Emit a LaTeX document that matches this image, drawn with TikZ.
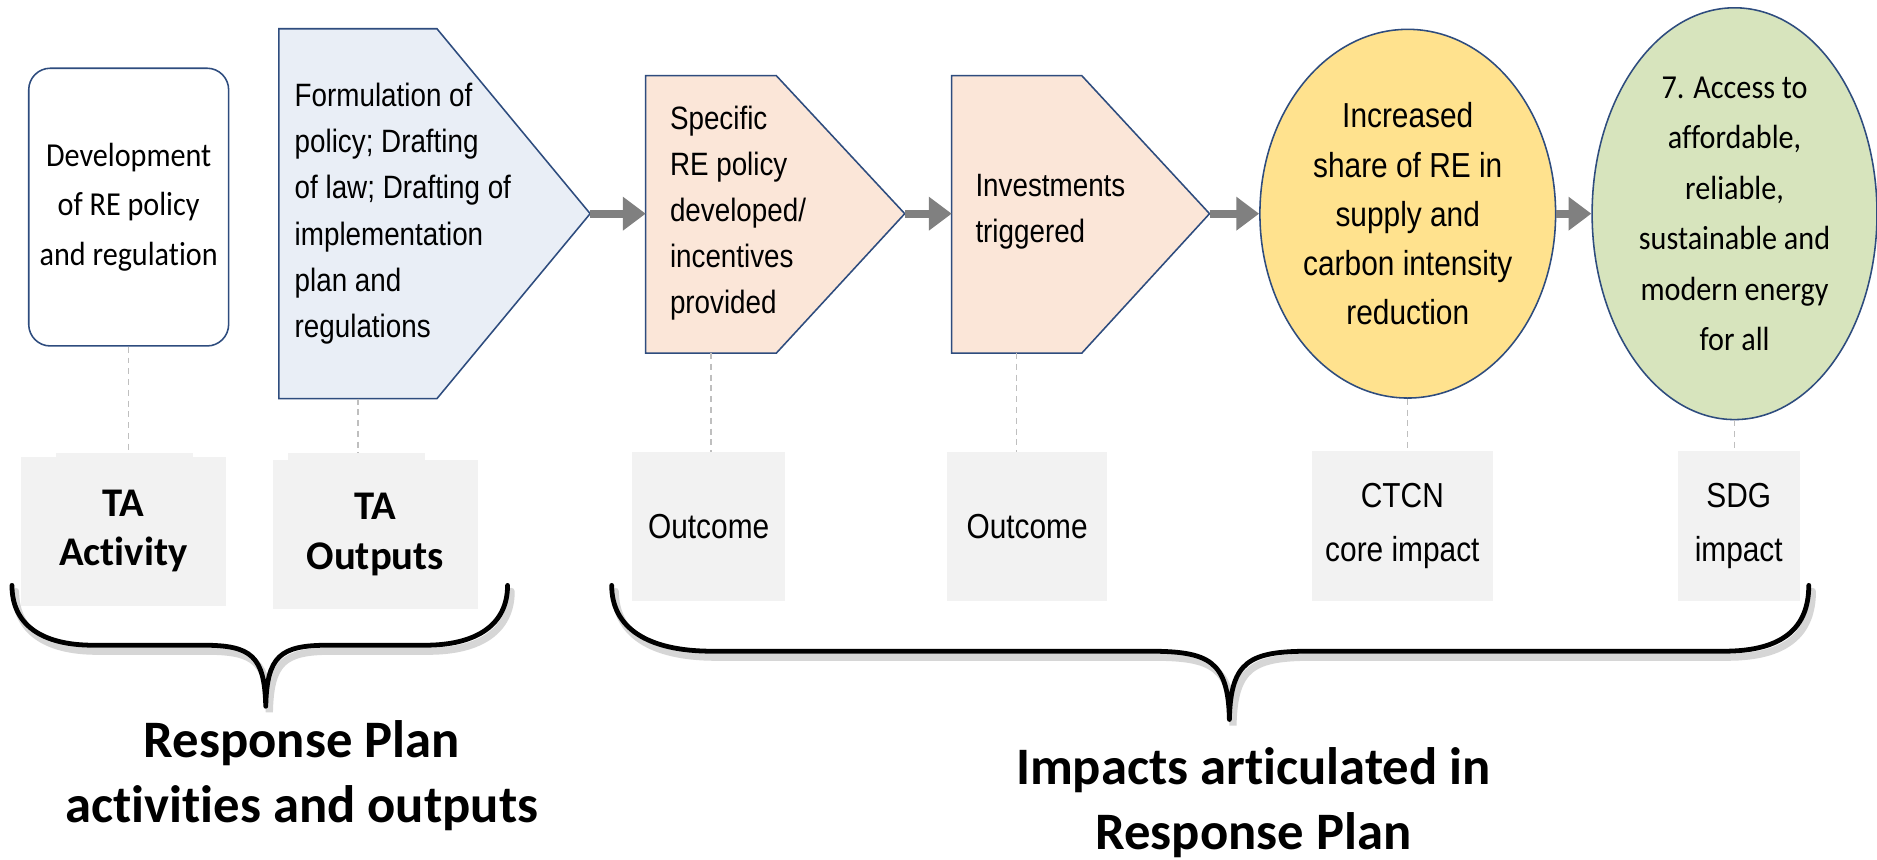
\documentclass[tikz,border=0pt]{standalone}
\usepackage{fontspec}
\setmainfont[Ligatures=NoCommon]{Carlito}
\newfontfamily\narrowfont[FakeStretch=0.86]{Liberation Sans}
\newfontfamily\calnarrow[FakeStretch=0.9,Ligatures=NoCommon]{Carlito}
\usetikzlibrary{arrows.meta,shapes.geometric}
\definecolor{navy}{HTML}{2E4C7E}
\definecolor{bluefill}{HTML}{E9EEF6}
\definecolor{peach}{HTML}{FBE6D8}
\definecolor{yel}{HTML}{FFE28E}
\definecolor{grn}{HTML}{D7E4BD}
\definecolor{boxgray}{HTML}{F2F2F2}
\definecolor{arrgray}{HTML}{808080}
\definecolor{dashgray}{HTML}{BFBFBF}
\begin{document}
\begin{tikzpicture}[x=1pt,y=-1pt,
  shapeline/.style={draw=navy,line width=1.3pt},
  bluepent/.style={shapeline,fill=bluefill},
  peachpent/.style={shapeline,fill=peach},
  narrowtxt/.style={font=\narrowfont\fontsize{27}{38.5}\selectfont,align=left,inner sep=0pt,anchor=west},
  ovaltxt/.style={ellipse,shapeline,inner sep=0pt,align=center},
  labelbox/.style={fill=boxgray,inner sep=0pt,align=center},
  boldlab/.style={labelbox,font=\fontsize{34}{41.5}\selectfont\bfseries},
  narrowlab/.style={labelbox,font=\narrowfont\fontsize{29}{45}\selectfont},
  flow/.style={draw=arrgray,line width=6.5pt,-{Triangle[length=19pt,width=27pt]}},
  guide/.style={draw=dashgray,line width=1pt,dash pattern=on 5pt off 4pt},
  bracepath/.style={draw=black,line width=4pt,line cap=round,line join=round},
  braceshadow/.style={draw=black!35,line width=6pt,opacity=0.45,line cap=round},
  bottomtxt/.style={font=\fontsize{44}{54.5}\selectfont\bfseries,align=center,inner sep=0pt}
]
\useasboundingbox (0,0) rectangle (1568,718);
\fill[white] (0,0) rectangle (1568,718);

% --- activity box
\node[shapeline,fill=white,rounded corners=18pt,minimum width=167pt,minimum height=232pt,
      align=center,font=\calnarrow\fontsize{28}{41.5}\selectfont] (dev) at (107.5,173)
      {Development\\of RE policy\\and regulation};

% --- output pentagon
\draw[bluepent] (233,24) -- (365,24) -- (493,178.5) -- (365,333) -- (233,333) -- cycle;
\coordinate (btip) at (493,178.5);
\coordinate (bbot) at (299,333);
\node[narrowtxt] (btxt) at (246,178.5)
  {Formulation of\\policy; Drafting\\of law; Drafting of\\implementation\\plan and\\regulations};

% --- outcome pentagons
\draw[peachpent] (539.4,63.2) -- (648.5,63.2) -- (755.8,178.5) -- (648.5,295) -- (539.4,295) -- cycle;
\coordinate (p1w) at (539.4,178.5);
\coordinate (p1tip) at (755.8,178.5);
\coordinate (p1bot) at (594,295);
\node[narrowtxt] (p1txt) at (559.5,178)
  {Specific\\RE policy\\developed/\\incentives\\provided};

\draw[peachpent] (795,63.2) -- (903.7,63.2) -- (1010.4,178.5) -- (903.7,295) -- (795,295) -- cycle;
\coordinate (p2w) at (795,178.5);
\coordinate (p2tip) at (1010.4,178.5);
\coordinate (p2bot) at (849,295);
\node[narrowtxt] (p2txt) at (814.7,177) {Investments\\triggered};

% --- impact ovals
\node[ovaltxt,fill=yel,minimum width=224pt,minimum height=308pt,
      font=\narrowfont\fontsize{29}{41}\selectfont] (core) at (1176,178.5)
      {Increased\\share of RE in\\supply and\\carbon intensity\\reduction};
\node[ovaltxt,fill=grn,minimum width=238pt,minimum height=344pt,
      font=\calnarrow\fontsize{28}{42.2}\selectfont] (sdg) at (1449,178.5)
      {7. Access to\\affordable,\\reliable,\\sustainable and\\modern energy\\for all};

% --- arrows
\draw[flow] (btip) -- (p1w);
\draw[flow] (p1tip) -- (p2w);
\draw[flow] (p2tip) -- (core.west);
\draw[flow] (core.east) -- (sdg.west);

% --- label boxes
\fill[boxgray] (47,378.5) rectangle (161,382);
\node[boldlab,minimum width=171pt,minimum height=124.5pt] (lact) at (103,443.7) {TA\\Activity};
\fill[boxgray] (241,378.5) rectangle (355,385);
\node[boldlab,minimum width=171.6pt,minimum height=124.6pt] (lout) at (313.5,446.7) {TA\\Outputs};
\node[narrowlab,minimum width=127.7pt,minimum height=124.4pt] (loc1) at (592,439.8) {Outcome};
\node[narrowlab,minimum width=133pt,minimum height=124.4pt] (loc2) at (858,439.8) {Outcome};
\node[narrowlab,minimum width=151.7pt,minimum height=125pt] (lctcn) at (1171.5,439.5) {CTCN\\core impact};
\node[narrowlab,minimum width=102.2pt,minimum height=125pt] (lsdg) at (1452.5,439.5) {SDG\\impact};

% --- dashed guides
\draw[guide] (dev.south) -- (dev.south |- 0,378.5);
\draw[guide] (bbot) -- (bbot |- 0,378.5);
\draw[guide] (p1bot) -- (p1bot |- loc1.north);
\draw[guide] (p2bot) -- (p2bot |- loc2.north);
\draw[guide] (core.south) -- (core.south |- lctcn.north);
\draw[guide] (sdg.south) -- (sdg.south |- lsdg.north);

% --- braces
\begin{scope}[shift={(3,5)}]
\draw[braceshadow] (10,489) .. controls (10,522) and (35,539) .. (78,539) -- (170,539)
  .. controls (210,539) and (221,548) .. (222,590)
  .. controls (223,548) and (234,539) .. (274,539) -- (355,539)
  .. controls (398,539) and (424,522) .. (424,489);
\draw[braceshadow] (511,489) .. controls (511,524) and (540,544) .. (595,544) -- (960,544)
  .. controls (1010,544) and (1026,552) .. (1027,601)
  .. controls (1028,552) and (1044,544) .. (1094,544) -- (1440,544)
  .. controls (1490,544) and (1511,524) .. (1511,489);
\end{scope}
\draw[bracepath] (10,489) .. controls (10,522) and (35,539) .. (78,539) -- (170,539)
  .. controls (210,539) and (221,548) .. (222,590)
  .. controls (223,548) and (234,539) .. (274,539) -- (355,539)
  .. controls (398,539) and (424,522) .. (424,489);
\draw[bracepath] (511,489) .. controls (511,524) and (540,544) .. (595,544) -- (960,544)
  .. controls (1010,544) and (1026,552) .. (1027,601)
  .. controls (1028,552) and (1044,544) .. (1094,544) -- (1440,544)
  .. controls (1490,544) and (1511,524) .. (1511,489);

% --- bottom captions
\node[bottomtxt] (cap1) at (252,648) {Response Plan\\activities and outputs};
\node[bottomtxt] (cap2) at (1047,670.5) {Impacts articulated in\\Response Plan};
\end{tikzpicture}
\end{document}
